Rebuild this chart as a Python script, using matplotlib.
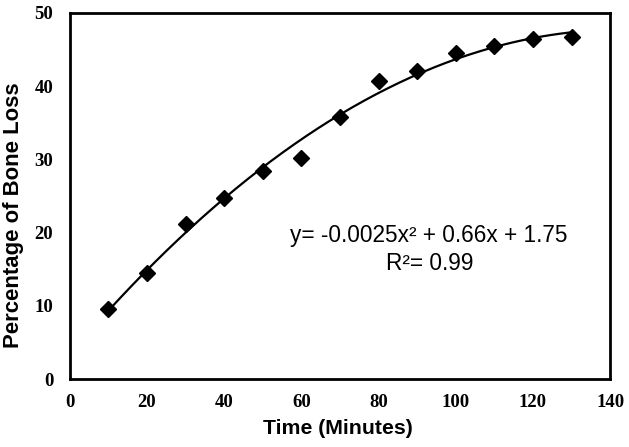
import numpy as np
import matplotlib
matplotlib.use("Agg")
import matplotlib.pyplot as plt

# data
time_min = [10, 20, 30, 40, 50, 60, 70, 80, 90, 100, 110, 120, 130]
bone_loss = [9.6, 14.5, 21.2, 24.7, 28.4, 30.2, 35.8, 40.7, 42.1, 44.5, 45.5, 46.4, 46.7]
x_ticks = [0, 20, 40, 60, 80, 100, 120, 140]
y_ticks = [0, 10, 20, 30, 40, 50]

# quadratic trend line through the points
coef = np.polyfit(time_min, bone_loss, 2)
xs = np.linspace(min(time_min), max(time_min), 200)
ys = np.polyval(coef, xs)

fig = plt.figure(figsize=(6.29, 4.47), dpi=100)
ax = fig.add_axes([0.111, 0.152, 0.859, 0.819])

ax.plot(xs, ys, color="black", linewidth=1.6)
ax.plot(time_min, bone_loss, linestyle="none", marker="D", markersize=8.5,
        color="black")

ax.set_xlim(0, 140)
ax.set_ylim(0, 50)
ax.set_xticks(x_ticks)
ax.set_yticks(y_ticks)
ax.tick_params(length=0)
ax.tick_params(axis="x", pad=11)
ax.tick_params(axis="y", pad=12)
for lab in ax.get_xticklabels() + ax.get_yticklabels():
    lab.set_fontfamily("Liberation Serif")
    lab.set_fontweight("bold")
    lab.set_fontsize(13.5)

for sp in ax.spines.values():
    sp.set_linewidth(2)

xlab = fig.text(0.5 * (263 + 413) / 629, 1 - 428 / 447, "Time (Minutes)",
                ha="center", va="center", fontfamily="Liberation Sans",
                fontweight="bold", fontsize=15)
ylab = fig.text(14 / 629, 1 - 215 / 447, "Percentage of Bone Loss", rotation=90,
                ha="center", va="center", fontfamily="Liberation Sans",
                fontweight="bold", fontsize=13.5)
eq = ax.text(0.665, 0.393, "y= -0.0025x\u00b2 + 0.66x + 1.75", transform=ax.transAxes,
             ha="center", va="center", fontfamily="Liberation Sans", fontsize=16)
r2 = ax.text(0.667, 0.317, "R\u00b2= 0.99", transform=ax.transAxes,
             ha="center", va="center", fontfamily="Liberation Sans", fontsize=16)

# scale text so its length in pixels matches the reference
renderer = fig.canvas.get_renderer()
for t, target, vertical in [(xlab, 150, False), (ylab, 265, True), (eq, 278, False)]:
    bb = t.get_window_extent(renderer)
    size = bb.height if vertical else bb.width
    t.set_fontsize(t.get_fontsize() * target / size)
r2.set_fontsize(eq.get_fontsize())

fig.savefig("out.png", dpi=100)
